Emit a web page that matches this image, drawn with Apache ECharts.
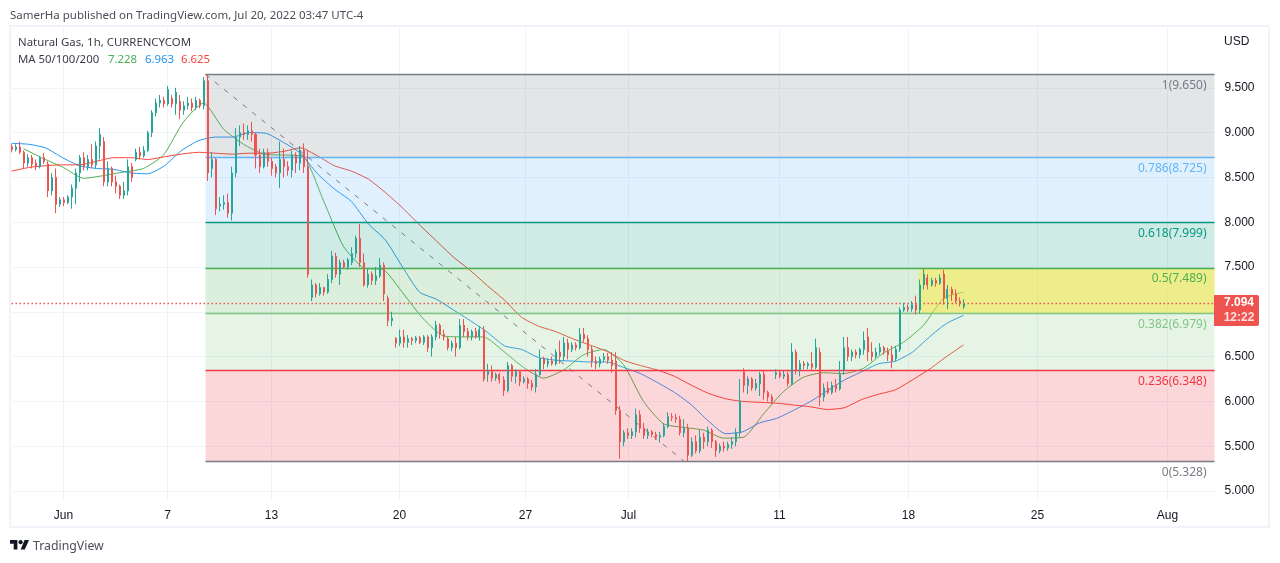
<!DOCTYPE html>
<html><head><meta charset="utf-8">
<style>html,body{margin:0;padding:0;background:#fff;overflow:hidden}#c{width:1280px;height:563px}</style>
<script src="https://cdn.jsdelivr.net/npm/echarts@6/dist/echarts.min.js"></script>
</head><body><div id="c"></div>
<script>
const opens=[8.84,8.81,8.84,8.78,8.66,8.72,8.66,8.62,8.72,8.65,
8.35,8.5,8.2,8.25,8.22,8.28,8.38,8.55,8.72,8.62,
8.7,8.64,8.85,8.9,8.45,8.6,8.45,8.4,8.3,8.35,
8.62,8.7,8.78,8.74,8.8,9.0,9.22,9.33,9.36,9.32,
9.38,9.32,9.35,9.25,9.3,9.33,9.28,9.36,9.3,9.58,
8.6,8.7,8.18,8.2,8.22,8.1,8.55,8.95,9.0,8.98,
9.02,8.98,8.75,8.62,8.78,8.68,8.62,8.55,8.7,8.62,
8.58,8.75,8.66,8.8,8.62,7.16,7.3,7.2,7.27,7.22,
7.36,7.62,7.42,7.55,7.5,7.55,7.65,7.82,7.55,7.3,
7.42,7.35,7.4,7.52,7.15,6.9,6.7,6.65,6.72,6.66,
6.7,6.68,6.71,6.66,6.72,6.6,6.72,6.85,6.75,6.7,
6.6,6.65,6.6,6.85,6.78,6.72,6.78,6.72,6.8,6.3,
6.34,6.26,6.3,6.24,6.12,6.4,6.28,6.33,6.22,6.25,
6.2,6.16,6.3,6.48,6.42,6.45,6.42,6.55,6.5,6.65,
6.58,6.63,6.6,6.75,6.7,6.58,6.45,6.42,6.47,6.5,
6.46,6.45,5.9,5.55,5.65,5.62,5.66,5.85,5.7,5.62,
5.66,5.63,5.6,5.62,5.72,5.83,5.82,5.8,5.65,5.7,
5.4,5.55,5.45,5.6,5.55,5.68,5.55,5.45,5.5,5.48,
5.52,5.55,5.65,6.33,6.18,6.25,6.15,6.2,6.3,6.1,
6.05,6.3,6.32,6.28,6.3,6.2,6.55,6.35,6.42,6.4,
6.42,6.38,6.55,6.05,6.15,6.1,6.18,6.14,6.35,6.6,
6.5,6.55,6.52,6.58,6.72,6.55,6.5,6.55,6.6,6.56,
6.52,6.48,6.58,7.02,7.05,7.03,7.08,7.02,7.3,7.38,
7.3,7.35,7.32,7.42,7.15,7.25,7.2,7.12,7.06];
const closes=[8.81,8.84,8.78,8.66,8.72,8.65,8.62,8.72,8.68,8.35,
8.5,8.2,8.25,8.22,8.28,8.38,8.55,8.72,8.62,8.7,
8.64,8.85,8.98,8.45,8.6,8.45,8.4,8.3,8.35,8.62,
8.5,8.78,8.74,8.8,9.0,9.22,9.33,9.36,9.32,9.48,
9.32,9.45,9.25,9.3,9.33,9.28,9.36,9.3,9.58,8.55,
8.7,8.15,8.2,8.22,8.1,8.55,8.95,9.0,8.98,9.02,
8.98,8.75,8.62,8.78,8.68,8.6,8.55,8.7,8.62,8.58,
8.75,8.66,8.8,8.62,7.42,7.3,7.2,7.27,7.22,7.36,
7.62,7.42,7.55,7.5,7.58,7.65,7.82,7.55,7.3,7.42,
7.35,7.4,7.52,7.2,6.9,6.93,6.65,6.72,6.66,6.7,
6.68,6.71,6.66,6.72,6.6,6.72,6.85,6.75,6.72,6.6,
6.65,6.6,6.85,6.78,6.72,6.78,6.72,6.8,6.25,6.34,
6.26,6.3,6.24,6.12,6.4,6.28,6.33,6.22,6.25,6.2,
6.16,6.3,6.48,6.42,6.45,6.42,6.55,6.5,6.65,6.58,
6.63,6.6,6.75,6.7,6.58,6.45,6.42,6.47,6.5,6.46,
6.4,5.9,5.55,5.65,5.62,5.66,5.85,5.7,5.62,5.66,
5.63,5.6,5.62,5.72,5.83,5.82,5.8,5.65,5.7,5.4,
5.55,5.45,5.6,5.55,5.68,5.55,5.45,5.5,5.48,5.52,
5.55,5.65,6.0,6.18,6.25,6.15,6.2,6.3,6.1,6.05,
6.0,6.32,6.28,6.3,6.2,6.55,6.35,6.42,6.4,6.42,
6.38,6.6,6.05,6.15,6.1,6.18,6.14,6.3,6.6,6.5,
6.55,6.52,6.58,6.68,6.55,6.5,6.55,6.6,6.56,6.52,
6.45,6.58,7.02,7.05,7.03,7.08,7.02,7.3,7.42,7.3,
7.35,7.32,7.38,7.15,7.25,7.2,7.12,7.1,7.09];
const lows=[8.78,8.79,8.76,8.6,8.62,8.6,8.58,8.6,8.65,8.28,
8.3,8.1,8.17,8.18,8.2,8.15,8.2,8.45,8.58,8.58,
8.6,8.6,8.7,8.4,8.4,8.4,8.32,8.26,8.26,8.3,
8.45,8.68,8.7,8.72,8.78,8.95,9.18,9.28,9.28,9.3,
9.28,9.2,9.15,9.2,9.26,9.24,9.25,9.27,9.26,8.46,
8.5,8.08,8.12,8.14,8.05,8.02,8.5,8.85,8.92,8.92,
8.9,8.6,8.55,8.6,8.62,8.52,8.5,8.38,8.5,8.52,
8.5,8.55,8.58,8.55,7.38,7.12,7.16,7.18,7.18,7.2,
7.32,7.38,7.3,7.48,7.47,7.52,7.6,7.5,7.28,7.27,
7.3,7.3,7.38,7.12,6.84,6.84,6.6,6.62,6.6,6.6,
6.63,6.65,6.64,6.63,6.55,6.5,6.68,6.7,6.68,6.57,
6.56,6.5,6.58,6.72,6.68,6.68,6.7,6.68,6.22,6.22,
6.22,6.23,6.2,6.06,6.1,6.22,6.2,6.17,6.2,6.14,
6.12,6.1,6.28,6.36,6.38,6.4,6.4,6.42,6.45,6.47,
6.55,6.57,6.58,6.66,6.5,6.38,6.36,6.38,6.44,6.42,
6.32,5.85,5.36,5.5,5.58,5.58,5.6,5.65,5.58,5.58,
5.6,5.57,5.54,5.6,5.7,5.78,5.76,5.62,5.6,5.33,
5.38,5.42,5.42,5.47,5.5,5.48,5.38,5.42,5.44,5.45,
5.47,5.5,5.6,6.1,6.08,6.12,6.12,6.06,6.02,6.0,
5.97,6.25,6.26,6.25,6.17,6.18,6.3,6.28,6.36,6.36,
6.34,6.36,5.95,6.0,6.08,6.08,6.1,6.12,6.3,6.45,
6.45,6.48,6.48,6.52,6.45,6.45,6.48,6.52,6.52,6.45,
6.37,6.45,6.55,7.0,7.0,7.0,6.97,6.98,7.25,7.25,
7.28,7.28,7.3,7.08,7.03,7.12,7.1,7.06,7.03];
const highs=[8.87,8.87,8.9,8.8,8.76,8.75,8.7,8.74,8.77,8.68,
8.55,8.6,8.28,8.28,8.3,8.42,8.6,8.75,8.78,8.75,
8.87,8.9,9.05,8.95,8.68,8.62,8.52,8.42,8.45,8.7,
8.66,8.82,8.84,8.85,9.02,9.25,9.38,9.42,9.4,9.52,
9.42,9.5,9.42,9.35,9.4,9.38,9.4,9.38,9.62,9.65,
8.78,8.72,8.28,8.3,8.32,8.62,9.05,9.08,9.1,9.08,
9.12,9.0,8.82,8.82,8.82,8.72,8.65,8.9,8.82,8.68,
8.8,8.78,8.85,8.88,8.8,7.36,7.32,7.32,7.28,7.42,
7.68,7.66,7.58,7.58,7.6,7.72,7.85,7.98,7.65,7.48,
7.45,7.5,7.6,7.55,7.18,7.0,6.72,6.8,6.8,6.74,
6.72,6.73,6.73,6.74,6.74,6.75,6.9,6.87,6.8,6.72,
6.68,6.72,6.92,6.92,6.82,6.8,6.82,6.84,6.84,6.42,
6.4,6.32,6.32,6.28,6.44,6.42,6.36,6.35,6.28,6.27,
6.24,6.36,6.58,6.5,6.48,6.5,6.58,6.68,6.72,6.7,
6.66,6.66,6.82,6.82,6.74,6.62,6.5,6.5,6.54,6.54,
6.55,6.55,5.95,5.68,5.7,5.7,5.92,5.9,5.76,5.7,
5.68,5.66,5.66,5.76,5.88,5.87,5.86,5.84,5.8,5.75,
5.6,5.62,5.68,5.65,5.72,5.7,5.57,5.53,5.55,5.55,
5.6,5.7,6.25,6.37,6.28,6.27,6.25,6.33,6.34,6.12,
6.08,6.36,6.34,6.34,6.33,6.65,6.58,6.46,6.45,6.44,
6.55,6.7,6.6,6.2,6.22,6.22,6.25,6.45,6.72,6.72,
6.58,6.58,6.6,6.78,6.82,6.66,6.6,6.65,6.62,6.6,
6.62,6.62,7.05,7.1,7.08,7.12,7.18,7.36,7.48,7.42,
7.38,7.38,7.42,7.47,7.3,7.28,7.25,7.16,7.14];

// moving averages, read every 20 slots (MA50) and 17 slots (MA100, MA200)
const ma50=[8.82,8.71,8.61,8.49,8.52,8.56,8.6,8.75,9.12,9.33,
9.04,8.87,8.76,8.75,8.73,8.24,7.73,7.49,7.47,7.2,
6.92,6.73,6.72,6.72,6.56,6.38,6.26,6.35,6.52,6.58,
6.41,6.0,5.75,5.71,5.68,5.59,5.6,5.86,6.11,6.27,
6.32,6.31,6.37,6.54,6.66,6.85,7.15,7.22];
const ma100=[8.88,8.87,8.83,8.72,8.63,8.6,8.59,8.55,8.54,8.63,
8.8,8.91,8.95,8.95,9.0,8.99,8.89,8.77,8.54,8.37,
8.23,7.98,7.8,7.5,7.22,7.14,7.02,6.9,6.77,6.62,
6.58,6.49,6.46,6.45,6.44,6.44,6.38,6.31,6.21,6.1,
5.96,5.78,5.64,5.66,5.76,5.81,5.9,6.0,6.12,6.24,
6.33,6.42,6.45,6.55,6.72,6.87,6.96];
const ma200=[8.57,8.61,8.63,8.64,8.64,8.68,8.72,8.72,8.7,8.73,
8.76,8.78,8.77,8.76,8.77,8.77,8.79,8.83,8.74,8.63,
8.57,8.48,8.33,8.16,7.97,7.79,7.61,7.46,7.29,7.13,
6.94,6.84,6.78,6.7,6.63,6.56,6.46,6.4,6.35,6.28,
6.18,6.09,6.03,6.0,5.99,5.98,5.96,5.94,5.91,5.93,
6.02,6.08,6.13,6.24,6.36,6.5,6.63];

const fibRatios=['1','0.786','0.618','0.5','0.382','0.236','0'];
const fibPrices=[9.65,8.725,7.999,7.489,6.979,6.348,5.328];
const fibColors=['#787b86','#64b5f6','#089981','#4caf50','#81c784','#f23645','#787b86'];
const fibFills=['rgba(120,123,134,.2)','rgba(100,181,246,.2)','rgba(8,153,129,.2)','rgba(76,175,80,.2)','rgba(129,199,132,.2)','rgba(242,54,69,.2)'];
const lastPrice=7.094;
const yTicks=[5,5.5,6,6.5,7,7.5,8,8.5,9,9.5];
const xTickLabels=['Jun','7','13','20','27','Jul','11','18','25','Aug'];
const xTickSlots=[52,156,260,388,514,617,768,897,1026,1156];
const slotCount=1204, fibStart=194, fibEnd=1203, trendEnd=673, boxStart=907;

const categories=Array.from({length:slotCount},()=> '');
xTickSlots.forEach((s,i)=>{categories[s]=xTickLabels[i];});
const candleData=categories.map(()=>['-','-','-','-']);
opens.forEach((o,k)=>{candleData[k*4]=[o,closes[k],lows[k],highs[k]];});
const font='"Liberation Sans",Arial,sans-serif', uiFont='"Noto Sans",sans-serif';

const fibLines=fibPrices.map((p,i)=>[{coord:[fibStart,p],lineStyle:{color:fibColors[i],width:1.4,type:'solid',opacity:1},
  label:{show:true,position:'insideEndBottom',distance:[8,5],formatter:fibRatios[i]+'('+p.toFixed(3)+')',color:fibColors[i],fontSize:12,fontFamily:uiFont}},
  {coord:[fibEnd,p]}]);
const fibAreas=fibFills.map((f,i)=>[{coord:[fibStart,fibPrices[i]],itemStyle:{color:f}},{coord:[fibEnd,fibPrices[i+1]]}]);
fibAreas.push([{coord:[boxStart,fibPrices[3]],itemStyle:{color:'rgba(255,235,59,.5)'}},{coord:[fibEnd,fibPrices[4]]}]);

const maSeries=(name,vals,first,step,color)=>({type:'line',name,data:vals.map((v,k)=>[first+k*step,v]),
  showSymbol:false,smooth:0.2,lineStyle:{color,width:1},z:2,silent:true});

const chart=echarts.init(document.getElementById('c'),null,{renderer:'canvas'});
chart.setOption({
  animation:false,backgroundColor:'#fff',
  grid:{left:11.5,top:28,width:1203,height:472,containLabel:false},
  xAxis:{type:'category',data:categories,boundaryGap:false,
    axisLine:{show:false},axisTick:{show:false},
    axisLabel:{interval:(i,v)=>v!=='',color:'#131722',fontSize:12,fontFamily:font,margin:10,hideOverlap:false},
    splitLine:{show:true,interval:(i,v)=>v!=='',lineStyle:{color:'#f0f3fa',width:1}}},
  yAxis:{type:'value',position:'right',min:4.8996,max:10.1674,scale:true,
    axisLine:{show:false},axisTick:{show:false,customValues:yTicks},
    axisLabel:{customValues:yTicks,formatter:v=>v.toFixed(3),color:'#131722',fontSize:12,fontFamily:font,margin:10,padding:[2,0,0,0]},
    splitLine:{show:true,lineStyle:{color:'#f0f3fa',width:1}}},
  series:[
    {type:'candlestick',data:candleData,barWidth:1.5,z:6,silent:true,large:false,progressive:0,
      itemStyle:{color:'#26a69a',color0:'#ef5350',borderColor:'#26a69a',borderColor0:'#ef5350',borderWidth:1}},
    maSeries('MA50',ma50,12,20,'#4caf50'),
    maSeries('MA100',ma100,0,17,'#2196f3'),
    maSeries('MA200',ma200,0,17,'#f44336'),
    {type:'line',data:[],silent:true,z:3,
      markArea:{silent:true,z:3,data:fibAreas},
      markLine:{silent:true,symbol:'none',z:4,animation:false,data:[
        ...fibLines,
        [{coord:[fibStart,fibPrices[0]],lineStyle:{color:'#787b86',width:1,type:[5,7]},label:{show:false}},{coord:[trendEnd,fibPrices[6]]}],
        [{coord:[0,lastPrice],lineStyle:{color:'#ef5350',width:1.3,type:[1.5,2.5]},label:{show:false}},{coord:[fibEnd,lastPrice]}]
      ]}}
  ],
  graphic:[
    {type:'rect',silent:true,z:-10,shape:{x:10,y:26,width:1259,height:501},style:{fill:'none',stroke:'#f0f3fa',lineWidth:2}},
    {type:'text',silent:true,x:10,y:16,style:{text:'SamerHa published on TradingView.com, Jul 20, 2022 03:47 UTC-4',fill:'#4a4e59',font:'11.5px '+uiFont,textVerticalAlign:'middle'}},
    {type:'text',silent:true,x:18,y:43,z:20,style:{text:'Natural Gas, 1h, CURRENCYCOM',fill:'#131722',font:'11.4px '+uiFont,textVerticalAlign:'middle',opacity:.85}},
    {type:'text',silent:true,x:18,y:60,z:20,style:{text:'MA 50/100/200',fill:'#131722',font:'11.4px '+uiFont,textVerticalAlign:'middle',opacity:.85}},
    {type:'text',silent:true,x:108,y:60,z:20,style:{text:'7.228',fill:'#4caf50',font:'11.4px '+uiFont,textVerticalAlign:'middle'}},
    {type:'text',silent:true,x:145,y:60,z:20,style:{text:'6.963',fill:'#2196f3',font:'11.4px '+uiFont,textVerticalAlign:'middle'}},
    {type:'text',silent:true,x:181,y:60,z:20,style:{text:'6.625',fill:'#f44336',font:'11.4px '+uiFont,textVerticalAlign:'middle'}},
    {type:'text',silent:true,x:1224,y:42,style:{text:'USD',fill:'#131722',font:'12px '+font,textVerticalAlign:'middle'}},
    {type:'rect',silent:true,z:20,shape:{x:1214,y:295,width:45,height:31,r:[0,2,2,0]},style:{fill:'#ef5350'}},
    {type:'text',silent:true,z:21,x:1239,y:303,style:{text:'7.094',fill:'#fff',font:'bold 12px '+font,textAlign:'center',textVerticalAlign:'middle'}},
    {type:'text',silent:true,z:21,x:1239,y:318,style:{text:'12:22',fill:'#fbe0df',font:'bold 12px '+font,textAlign:'center',textVerticalAlign:'middle'}},
    {type:'polygon',silent:true,shape:{points:[[10,540],[17.4,540],[17.4,549.6],[13.7,549.6],[13.7,543.8],[10,543.8]]},style:{fill:'#131722'}},
    {type:'polygon',silent:true,shape:{points:[[24.6,540],[29,540],[24.8,549.6],[20.6,549.6]]},style:{fill:'#131722'}},
    {type:'circle',silent:true,shape:{cx:20.6,cy:542.2,r:2.1},style:{fill:'#131722'}},
    {type:'text',silent:true,x:33,y:546,style:{text:'TradingView',fill:'#4a4e59',font:'12.3px '+uiFont,textVerticalAlign:'middle'}}
  ]
});
</script></body></html>
